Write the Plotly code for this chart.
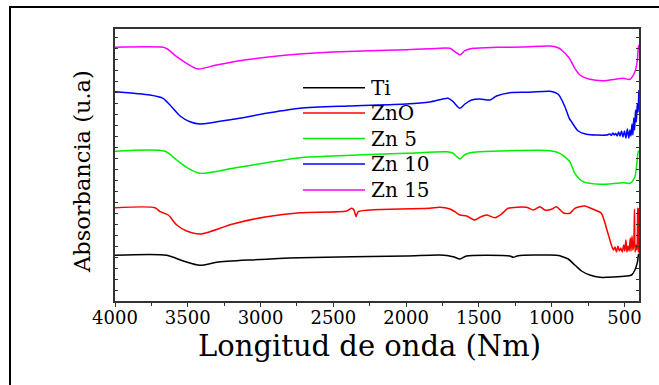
import plotly.graph_objects as go

# ---- data (wavenumber cm-1, absorbance in arbitrary units) ----
wn_ti = [4000, 3645, 3531, 3416, 3302, 3073, 2729, 2000, 1768, 1677, 1630, 1585, 1287, 1264, 1230,
         1012, 944, 898, 886, 841, 795, 738, 669, 486, 451, 428, 410, 404, 400]
ti = [45.7, 45.7, 40, 35.7, 38.7, 41, 43.3, 45, 46, 44.3, 42, 45, 45, 43.7, 45.3,
      46, 45.3, 42.7, 42.0, 36, 30, 26, 23.7, 25, 26, 31, 39.3, 46, 47]

wn_zno = [4000, 3725, 3690, 3634, 3576, 3508, 3416, 3348, 3190, 2958, 2729, 2409, 2374, 2358, 2344, 2329,
          1837, 1768, 1699, 1665, 1630, 1585, 1527, 1493, 1447, 1390, 1344, 1299, 1172, 1127, 1081, 1047,
          1001, 967, 921, 875, 841, 772, 715, 660, 640, 620, 600, 585, 575, 565, 555, 545, 535, 525, 515,
          505, 498, 490, 483, 475, 468, 460, 455, 448, 442, 436, 431, 427, 420, 414, 409, 405, 402, 400]
zno = [93.3, 93.3, 89.3, 86, 76, 70, 67, 69.3, 77, 84.3, 88.3, 90, 92.7, 91, 84.3, 89.3,
       92.7, 93.7, 92, 89.3, 86, 85, 81, 83.7, 86, 83.3, 87, 92.7, 93.7, 91, 94.3, 91,
       91.7, 94.3, 88.3, 87.7, 92.7, 95, 91.7, 88, 81, 71, 61, 54, 51, 54, 49, 55, 50, 53, 49,
       56, 50, 61, 49, 55, 50, 63, 50, 65, 51, 57, 92, 49, 56, 51, 93, 49, 51, 93]

wn_zn5 = [4000, 3657, 3576, 3508, 3416, 3190, 2958, 2729, 2500, 2000, 1720, 1680, 1630, 1600, 1560,
          1493, 1012, 944, 875, 841, 783, 669, 509, 462, 428, 405, 400]
zn5 = [149.7, 149.7, 141, 133.7, 127.7, 132.7, 138.3, 143.3, 145, 147.7, 149.3, 148, 142, 146, 148.3,
       149.3, 150.3, 147.7, 139.3, 127.7, 119.3, 116.7, 118.3, 117.7, 124.3, 149.3, 150]

wn_zn10 = [4000, 3760, 3670, 3622, 3553, 3485, 3416, 3190, 2958, 2729, 2400, 2000, 1837, 1711, 1677,
           1630, 1596, 1550, 1493, 1424, 1379, 1287, 1150, 1012, 955, 909, 879, 864, 818, 761, 623,
           600, 590, 580, 570, 560, 550, 540, 530, 520, 510, 500, 490, 480, 470, 462, 455, 448, 442,
           436, 430, 424, 418, 412, 406, 402, 400]
zn10 = [209.3, 206, 202.7, 196, 185, 179.3, 177, 181.7, 187.7, 192.7, 195, 197, 199, 202.7, 199.3,
        192.7, 197, 201, 202, 201, 205, 208.3, 208.7, 209.7, 206.7, 194.3, 182.7, 179.3, 170, 166.7, 166,
        167, 165.5, 168, 166, 167.5, 165, 169, 165, 170, 164, 170, 163, 172, 163, 171, 165, 177, 166,
        183, 171, 191, 179, 197, 189, 206, 211]

wn_zn15 = [4000, 3670, 3640, 3576, 3508, 3430, 3302, 3073, 2729, 2500, 2000, 1837, 1699, 1665, 1630,
           1596, 1539, 1379, 1200, 1012, 960, 932, 880, 841, 806, 738, 646, 509, 462, 428, 412, 405, 400]
zn15 = [253.7, 253.7, 252, 244.3, 237.7, 232, 236, 241.7, 247, 249, 251.3, 252.3, 252.7, 249.3, 246,
        250.3, 252.7, 253.7, 254, 255, 253.5, 251, 243, 232.7, 226, 221.7, 220.3, 222.7, 221.7, 229.3,
        240, 252.7, 256]

names = ["Ti", "ZnO", "Zn 5", "Zn 10", "Zn 15"]
colors = ["#000000", "#ff0000", "#00ee00", "#0000ff", "#ff00ff"]
series = [(wn_ti, ti), (wn_zno, zno), (wn_zn5, zn5), (wn_zn10, zn10), (wn_zn15, zn15)]
x_ticks = [4000, 3500, 3000, 2500, 2000, 1500, 1000, 500]

FONT = "DejaVu Serif"

fig = go.Figure()
for (xs, ys), name, col in zip(series, names, colors):
    fig.add_trace(go.Scatter(x=xs, y=ys, mode="lines", name=name,
                             line=dict(color=col, width=1.5, shape="spline", smoothing=0.7),
                             showlegend=False))

# plot area in pixels: x 115..639, y 29..301
L, R, T, B = 115, 639, 29, 301
W, H = 659, 385
def px(x):
    return (x - L) / (R - L)
def py(y):
    return (B - y) / (B - T)

shapes = [dict(type="rect", xref="paper", yref="paper",
               x0=px(10), x1=px(700), y0=py(7), y1=py(420),
               line=dict(color="black", width=2), layer="above")]
annotations = []
leg_y = [87.7, 113, 138.5, 164, 190]
for name, col, yy in zip(names, colors, leg_y):
    shapes.append(dict(type="line", xref="paper", yref="paper",
                       x0=px(303), x1=px(365), y0=py(yy), y1=py(yy),
                       line=dict(color=col, width=1.5)))
    annotations.append(dict(text=name, xref="paper", yref="paper", x=px(369), y=py(yy),
                            xanchor="left", yanchor="middle", showarrow=False,
                            font=dict(family=FONT, size=20, color="black")))

annotations.append(dict(text="Absorbancia (u.a)", xref="paper", yref="paper",
                        x=px(82), y=py(172), textangle=-90, xanchor="center", yanchor="middle",
                        showarrow=False, font=dict(family=FONT, size=22.5, color="black")))
annotations.append(dict(text="Longitud de onda (Nm)", xref="paper", yref="paper",
                        x=px(369), y=py(346), xanchor="center", yanchor="middle",
                        showarrow=False, font=dict(family=FONT, size=29, color="black")))

fig.update_layout(
    width=W, height=H,
    margin=dict(l=L, r=W - R, t=T, b=H - B),
    paper_bgcolor="white", plot_bgcolor="white",
    shapes=shapes, annotations=annotations,
    xaxis=dict(range=[4000, 400], tickvals=x_ticks, ticktext=[str(v) for v in x_ticks],
               ticks="outside", ticklen=4, tickwidth=1, tickcolor="#333",
               ticklabelstandoff=-4,
               minor=dict(ticks="outside", ticklen=3, dtick=250, tickcolor="#333", showgrid=False),
               showline=True, linecolor="#333", linewidth=1.5, mirror=True,
               showgrid=False, zeroline=False,
               tickfont=dict(family=FONT, size=18, color="black")),
    yaxis=dict(range=[0, 272], showticklabels=False, ticks="inside", ticklen=3, dtick=11,
               tickcolor="#333", showline=True, linecolor="#333", linewidth=1.5, mirror="ticks",
               showgrid=False, zeroline=False),
)

fig.write_html("out.html")
